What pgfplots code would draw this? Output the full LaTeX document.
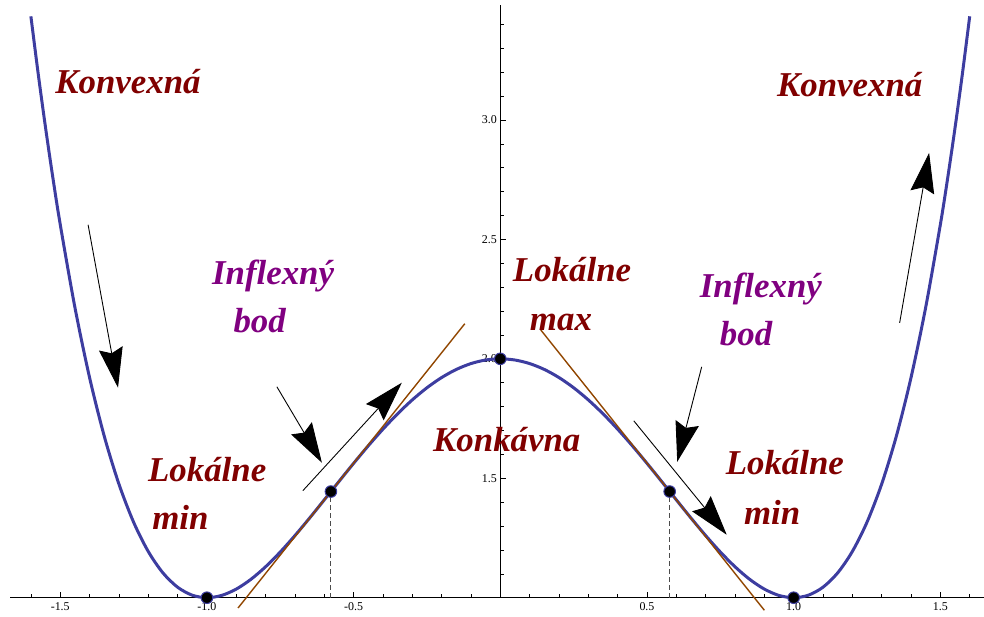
\documentclass[border=0pt]{standalone}
\usepackage{pgfplots}
\pgfplotsset{compat=1.18}
\usepackage{fontspec}
\setmainfont{Liberation Serif}
\usetikzlibrary{arrows.meta}
\definecolor{curveblue}{RGB}{61,61,160}
\definecolor{tanbrown}{RGB}{145,70,0}
\definecolor{darkred}{RGB}{128,0,0}
\definecolor{purp}{RGB}{128,0,128}
\begin{document}
\begin{tikzpicture}
\begin{axis}[
  scale only axis,
  width=974bp, height=592.7bp,
  xmin=-1.6712, xmax=1.6474, ymin=1, ymax=3.48,
  axis x line=bottom, axis y line=center,
  axis line style={-, line width=0.8bp},
  tick align=inside,
  xtick={-1.5,-1,-0.5,0.5,1,1.5},
  minor xtick={-1.6,-1.4,-1.3,-1.2,-1.1,-0.9,-0.8,-0.7,-0.6,-0.4,-0.3,-0.2,-0.1,0.1,0.2,0.3,0.4,0.6,0.7,0.8,0.9,1.1,1.2,1.3,1.4,1.6},
  ytick={1.5,2,2.5,3},
  minor ytick={1.1,1.2,1.3,1.4,1.6,1.7,1.8,1.9,2.1,2.2,2.3,2.4,2.6,2.7,2.8,2.9,3.1,3.2,3.3,3.4},
  major tick length=6bp, minor tick length=4bp,
  every tick/.style={black, line width=0.6bp},
  /pgf/number format/assume math mode=true,
  /pgf/number format/.cd, fixed, fixed zerofill, precision=1, /pgfplots/.cd,
  ticklabel style={font=\fontsize{12}{14}\selectfont},
  xticklabel style={yshift=-1bp},
  clip=false,
]
\path (axis cs:-1.7053,0.9205) rectangle (axis cs:1.6474,3.502);
% curve
\addplot[curveblue, line width=3bp, smooth] coordinates {
(-1.6,3.4336) (-1.575,3.1923) (-1.55,2.96701) (-1.525,2.75728) (-1.5,2.5625) (-1.45,2.21551) (-1.4,1.9216)
(-1.35,1.67651) (-1.3,1.4761) (-1.25,1.31641) (-1.2,1.1936) (-1.15,1.10401) (-1.1,1.0441)
(-1.05,1.01051) (-1.0,1.0) (-0.95,1.00951) (-0.9,1.0361) (-0.85,1.07701) (-0.8,1.1296)
(-0.75,1.19141) (-0.7,1.2601) (-0.65,1.33351) (-0.6,1.4096) (-0.55,1.48651) (-0.5,1.5625)
(-0.45,1.63601) (-0.4,1.7056) (-0.35,1.77001) (-0.3,1.8281) (-0.25,1.87891) (-0.2,1.9216)
(-0.15,1.95551) (-0.1,1.9801) (-0.05,1.99501) (0,2)
(0.05,1.99501) (0.1,1.9801) (0.15,1.95551) (0.2,1.9216) (0.25,1.87891) (0.3,1.8281)
(0.35,1.77001) (0.4,1.7056) (0.45,1.63601) (0.5,1.5625) (0.55,1.48651) (0.6,1.4096)
(0.65,1.33351) (0.7,1.2601) (0.75,1.19141) (0.8,1.1296) (0.85,1.07701) (0.9,1.0361)
(0.95,1.00951) (1.0,1.0) (1.05,1.01051) (1.1,1.0441) (1.15,1.10401) (1.2,1.1936)
(1.25,1.31641) (1.3,1.4761) (1.35,1.67651) (1.4,1.9216) (1.45,2.21551) (1.5,2.5625)
(1.525,2.75728) (1.55,2.96701) (1.575,3.1923) (1.6,3.4336)};
% tangents
\addplot[tanbrown, line width=1.4bp] coordinates {(-0.894,0.9569) (-0.121,2.1470)};
\addplot[tanbrown, line width=1.4bp] coordinates {(0.138,2.1208) (0.9,0.9476)};
% dashed drops
\addplot[black!70, dashed, line width=0.9bp, dash pattern=on 5bp off 3bp] coordinates {(-0.57735,1) (-0.57735,1.4444)};
\addplot[black!70, dashed, line width=0.9bp, dash pattern=on 5bp off 3bp] coordinates {(0.57735,1) (0.57735,1.4444)};
% points
\addplot[only marks, mark=*, mark size=5.8bp, mark options={fill=black, draw=curveblue, line width=1bp}] coordinates {
(-1,1) (-0.57735,1.4444) (0,2) (0.57735,1.4444) (1,1)};
% arrows
\tikzset{annarrow/.style={black, line width=0.9bp, -{Stealth[length=40bp,width=24bp,inset=5bp]}}}
\draw[annarrow] (axis cs:-1.405,2.561) -- (axis cs:-1.303,1.879);
\draw[annarrow] (axis cs:-0.7615,1.883) -- (axis cs:-0.608,1.565);
\draw[annarrow] (axis cs:-0.673,1.448) -- (axis cs:-0.3356,1.900);
\draw[annarrow] (axis cs:0.6865,1.9665) -- (axis cs:0.6031,1.569);
\draw[annarrow] (axis cs:0.4549,1.7406) -- (axis cs:0.7717,1.2636);
\draw[annarrow] (axis cs:1.3612,2.1506) -- (axis cs:1.4617,2.862);
% labels
\tikzset{lab/.style={inner sep=0pt, font=\fontsize{35}{40}\selectfont\bfseries\itshape}}
\node[lab, darkred, anchor=base] at (axis cs:-1.269,3.109) {Konvexná};
\node[lab, darkred, anchor=base] at (axis cs:1.191,3.096) {Konvexná};
\node[lab, darkred, anchor=base west] at (axis cs:-1.201,1.485) {Lokálne};
\node[lab, darkred, anchor=base west] at (axis cs:-1.187,1.2845) {min};
\node[lab, darkred, anchor=base west] at (axis cs:0.0426,2.322) {Lokálne};
\node[lab, darkred, anchor=base west] at (axis cs:0.1005,2.117) {max};
\node[lab, darkred, anchor=base] at (axis cs:0.0222,1.611) {Konkávna};
\node[lab, darkred, anchor=base west] at (axis cs:0.768,1.5146) {Lokálne};
\node[lab, darkred, anchor=base west] at (axis cs:0.83,1.305) {min};
\node[lab, purp, anchor=base west] at (axis cs:-0.983,2.3096) {Inflexný};
\node[lab, purp, anchor=base west] at (axis cs:-0.91,2.109) {bod};
\node[lab, purp, anchor=base west] at (axis cs:0.6797,2.255) {Inflexný};
\node[lab, purp, anchor=base west] at (axis cs:0.748,2.054) {bod};
\end{axis}
\end{tikzpicture}
\end{document}
